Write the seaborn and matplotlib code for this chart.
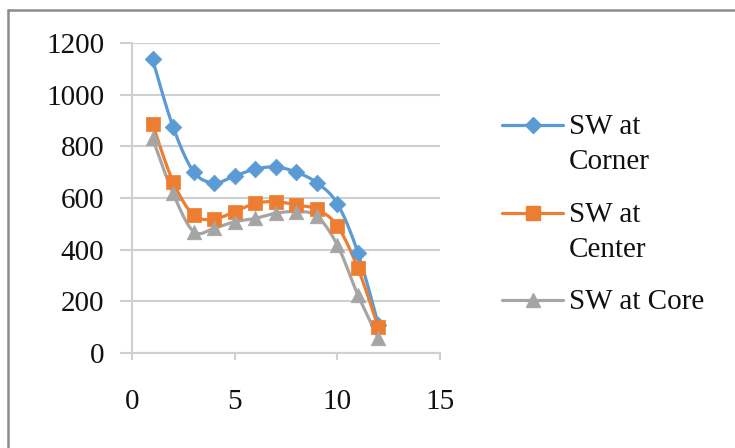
import numpy as np
import pandas as pd
import matplotlib
matplotlib.use("Agg")
import matplotlib.pyplot as plt
from matplotlib.lines import Line2D
import seaborn as sns

# Sample positions and measured SW values for the three locations
positions = [1, 2, 3, 4, 5, 6, 7, 8, 9, 10, 11, 12]
sw_corner = [1137, 875, 702, 659, 685, 712, 720, 700, 659, 578, 389, 110]
sw_center = [886, 663, 534, 519, 547, 579, 586, 573, 556, 492, 328, 99]
sw_core = [831, 618, 470, 483, 508, 521, 541, 547, 530, 418, 225, 57]

series_names = ["SW at Corner", "SW at Center", "SW at Core"]
legend_lines = [["SW at", "Corner"], ["SW at", "Center"], ["SW at Core"]]
colors = ["#5B9BD5", "#ED7D31", "#A5A5A5"]
markers = ["D", "s", "^"]
marker_sizes = [8.5, 10.5, 10.5]

x_ticks = [0, 5, 10, 15]
y_ticks = [0, 200, 400, 600, 800, 1000, 1200]

W, H = 735, 448


def smooth_curve(xs, ys, steps=30):
    """Bezier smoothing through every point (Catmull-Rom style control points)."""
    pts = np.column_stack([xs, ys]).astype(float)
    padded = np.vstack([pts[0], pts, pts[-1]])
    out = []
    t = np.linspace(0, 1, steps)[:, None]
    for i in range(1, len(padded) - 2):
        p0, p1, p2, p3 = padded[i - 1], padded[i], padded[i + 1], padded[i + 2]
        b1 = p1 + (p2 - p0) / 6.0
        b2 = p2 - (p3 - p1) / 6.0
        seg = ((1 - t) ** 3) * p1 + 3 * ((1 - t) ** 2) * t * b1 \
            + 3 * (1 - t) * t ** 2 * b2 + t ** 3 * p2
        out.append(seg if i == 1 else seg[1:])
    curve = np.vstack(out)
    return curve[:, 0], curve[:, 1]


def fx(px):
    return px / W


def fy(py):
    return 1 - py / H


sns.set_theme(style="white")
plt.rcParams["font.family"] = ["Liberation Serif", "DejaVu Serif"]

fig = plt.figure(figsize=(W / 100, H / 100), dpi=100)
ax = fig.add_axes([fx(132), fy(353), (440 - 132) / W, (353 - 43) / H])

grid_color = "#D0D0D0"

df = pd.DataFrame({
    "x": positions * 3,
    "value": sw_corner + sw_center + sw_core,
    "series": sum([[n] * len(positions) for n in series_names], []),
})

for name, col, mk, ms in zip(series_names, colors, markers, marker_sizes):
    sub = df[df["series"] == name]
    sx, sy = smooth_curve(sub["x"].to_numpy(), sub["value"].to_numpy())
    sns.lineplot(x=sx, y=sy, ax=ax, color=col, linewidth=2.3, sort=False,
                 estimator=None, zorder=3)
    sns.scatterplot(data=sub, x="x", y="value", ax=ax, color=col, marker=mk,
                    s=ms ** 2, edgecolor=col, linewidth=0.5, zorder=4)

ax.set_xlim(0, 15)
ax.set_ylim(0, 1200)
ax.set_xticks(x_ticks)
ax.set_yticks(y_ticks)
ax.set_xlabel("")
ax.set_ylabel("")

ax.yaxis.grid(True, color=grid_color, linewidth=1.5)
ax.set_axisbelow(True)
for side in ["top", "right"]:
    ax.spines[side].set_visible(False)
for side in ["left", "bottom"]:
    ax.spines[side].set_color(grid_color)
    ax.spines[side].set_linewidth(1.5)

ax.tick_params(axis="y", direction="out", length=9, width=1.5, color=grid_color,
               labelsize=21, labelcolor="#111111", pad=11, left=True)
ax.tick_params(axis="x", direction="out", length=5, width=1.5, color=grid_color,
               labelsize=21, labelcolor="#111111", pad=21, bottom=True)

# Legend: each key is aligned with the first line of its label
key_rows = [125, 213, 300]
for row, col, mk, ms, lines in zip(key_rows, colors, markers, marker_sizes, legend_lines):
    fig.add_artist(Line2D([fx(502), fx(563)], [fy(row), fy(row)],
                          transform=fig.transFigure, color=col, linewidth=2.3))
    fig.add_artist(Line2D([fx(533)], [fy(row)], transform=fig.transFigure,
                          color=col, marker=mk, markersize=ms, linestyle=""))
    for k, txt in enumerate(lines):
        fig.text(fx(569), fy(row + 9 + 35 * k), txt, fontsize=21,
                 color="#111111", ha="left", va="baseline")

# Chart frame
fig.add_artist(Line2D([fx(8), fx(8)], [0, fy(10)],
                      transform=fig.transFigure, color="#8C8C8C", linewidth=1.8))
fig.add_artist(Line2D([fx(8), 1], [fy(10), fy(10)],
                      transform=fig.transFigure, color="#8C8C8C", linewidth=1.8))

fig.savefig("out.png", dpi=100)
